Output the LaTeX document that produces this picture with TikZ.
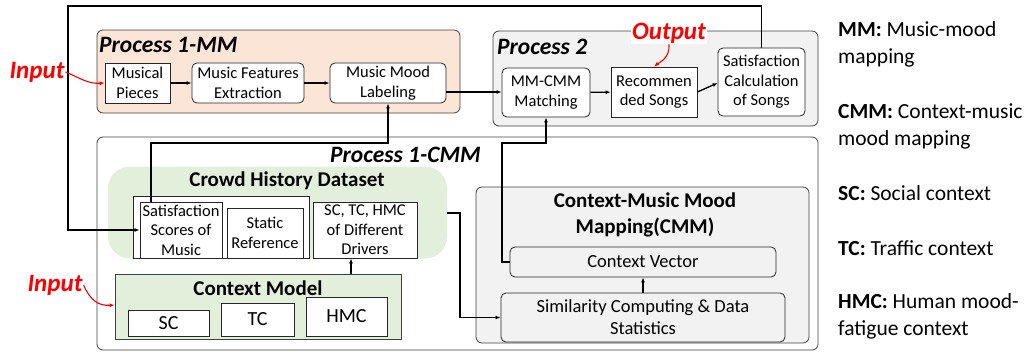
\documentclass[tikz,border=0pt]{standalone}
\usepackage{fontspec}
\setmainfont{Carlito}
\usetikzlibrary{calc,arrows.meta}
\definecolor{peach}{HTML}{FBE5D6}
\definecolor{lgray}{HTML}{F2F2F2}
\definecolor{lgreen}{HTML}{E2EFDA}
\definecolor{bord}{HTML}{404040}
\definecolor{inred}{HTML}{FF0000}
\tikzset{
  proc/.style={draw=bord, line width=0.8pt, rounded corners=6pt, inner sep=0pt},
  rbox/.style={draw=black!85, line width=0.8pt, rounded corners=5pt, fill=white, align=center, inner sep=0pt, font=\fontsize{16.5}{19.5}\selectfont},
  sbox/.style={draw=black!85, line width=0.8pt, fill=white, align=center, inner sep=0pt, font=\fontsize{16.5}{19.5}\selectfont},
  bigtxt/.style={font=\fontsize{18.5}{22}\selectfont},
  ctxtxt/.style={font=\fontsize{20}{22}\selectfont},
  ptitle/.style={font=\fontsize{23.5}{26}\selectfont\bfseries\itshape, anchor=west, inner sep=0pt},
  btitle/.style={font=\fontsize{21}{26.5}\selectfont\bfseries, inner sep=0pt, align=center},
  conn/.style={line width=1.3pt, -{Latex[length=5pt,width=4pt]}},
  redlab/.style={text=inred, font=\fontsize{25}{28}\selectfont\bfseries\itshape, inner sep=1pt},
  redarr/.style={draw=inred, line width=1.1pt, -{Latex[length=5pt,width=4pt]}},
  legend/.style={anchor=base west, inner sep=0pt, font=\fontsize{21.5}{27}\selectfont},
}
\begin{document}
\begin{tikzpicture}[x=1pt,y=-1pt]
\useasboundingbox (0,0) rectangle (1035,351);
% containers
\node[proc, fill=peach, minimum width=363pt, minimum height=83pt] (p1mm) at (278.5,71.5) {};
\node[proc, fill=lgray, minimum width=325pt, minimum height=95pt] (p2) at (655.5,78.5) {};
\node[proc, fill=white, minimum width=721pt, minimum height=213pt] (p1cmm) at (457.5,243.5) {};
\node[ptitle] (t1) at (99,45) {Process 1-MM};
\node[ptitle] (t2) at (497,47) {Process 2};
\node[ptitle] (t3) at (330,155) {Process 1-CMM};

% Process 1-MM
\node[sbox, minimum width=65pt, minimum height=40pt] (mp) at (137.5,83) {Musical\\Pieces};
\node[rbox, minimum width=112pt, minimum height=40pt] (mfe) at (248,83) {Music Features\\Extraction};
\node[rbox, minimum width=116pt, minimum height=40pt] (mml) at (388,83) {Music Mood\\Labeling};

% Process 2
\node[rbox, minimum width=88pt, minimum height=49pt] (mmc) at (546,92.5) {MM-CMM\\Matching};
\node[sbox, minimum width=86pt, minimum height=50pt] (rs) at (654,92) {Recommen\\ded Songs};
\node[rbox, minimum width=87pt, minimum height=68pt] (sc2) at (761.5,82) {Satisfaction\\Calculation\\of Songs};
\node[redlab, fill=white] (out) at (669,33) {Output};

% Crowd history
\node[fill=lgreen, rounded corners=22pt, minimum width=339pt, minimum height=92pt, inner sep=0pt] (chd) at (277.5,212.5) {};
\node[btitle] (chdt) at (287,181) {Crowd History Dataset};
\node[sbox, minimum width=176pt, minimum height=62pt] (ob) at (221,227) {};
\node[sbox, minimum width=82pt, minimum height=56pt] (ss) at (181,230) {Satisfaction\\Scores of\\Music};
\node[sbox, minimum width=76pt, minimum height=50pt] (sr) at (265,233) {Static\\Reference};
\draw[black!85, line width=0.8pt] (ob.south west) -- (ob.south east);
\node[sbox, minimum width=104pt, minimum height=56pt] (drv) at (365,230) {SC, TC, HMC\\of Different\\Drivers};

% Context model
\node[draw=bord, line width=0.8pt, fill=lgreen, minimum width=286pt, minimum height=65pt, inner sep=0pt] (cm) at (258,306.5) {};
\node[btitle] (cmt) at (258,288) {Context Model};
\node[sbox, ctxtxt, minimum width=81pt, minimum height=26pt] (csc) at (168.5,323) {SC};
\node[sbox, ctxtxt, minimum width=73pt, minimum height=33pt] (ctc) at (257.5,319.5) {TC};
\node[sbox, ctxtxt, minimum width=81pt, minimum height=39pt] (chmc) at (346.5,316.5) {HMC};

% CMM
\node[proc, fill=lgray, minimum width=333pt, minimum height=156pt] (cmm) at (642.5,265) {};
\node[btitle] (cmmt) at (645,215) {Context-Music Mood\\Mapping(CMM)};
\node[rbox, bigtxt, fill=lgray, minimum width=266pt, minimum height=30pt] (cv) at (643,262) {Context Vector};
\node[rbox, bigtxt, fill=lgray, minimum width=284pt, minimum height=49pt] (sim) at (643,317.5) {Similarity Computing \& Data\\Statistics};

% legend
\node[legend] (lg1a) at (838,36) {\textbf{MM:} Music-mood};
\node[legend] (lg1b) at (838,63) {mapping};
\node[legend] (lg2a) at (838,118) {\textbf{CMM:} Context-music};
\node[legend] (lg2b) at (838,145) {mood mapping};
\node[legend] (lg3) at (838,200) {\textbf{SC:} Social context};
\node[legend] (lg4) at (838,255) {\textbf{TC:} Traffic context};
\node[legend] (lg5a) at (838,308) {\textbf{HMC:} Human mood-};
\node[legend] (lg5b) at (838,335) {fatigue context};

% helper coordinates
\coordinate (fb) at (68,6);
\coordinate (k1) at (151,143);
\coordinate (k2) at (502,143);
\coordinate (k3) at (460,213);
\coordinate (k4) at (351,0);

% connectors
\draw[conn] (mp) -- (mfe);
\draw[conn] (mfe) -- (mml);
\draw[conn] (mml.east |- 0,92) -- (mmc.west |- 0,92);
\draw[conn] (mmc) -- (rs);
\draw[conn] (rs.east) -- ($(sc2.west)+(0,1)$);
\draw[conn] (sc2.north) -- (sc2.north |- fb) -- (fb) -- (fb |- ss.west) -- (ss.west);
\draw[conn] (k1 |- ss.north) -- (k1) -- (k1 -| mml.south) -- (mml.south);
\draw[conn] (cv.west) -- (k2 |- cv.west) -- (k2) -- (k2 -| mmc.south) -- (mmc.south);
\draw[conn] (k3 -| chd.east) -- (k3) -- (k3 |- sim.west) -- (sim.west);
\draw[conn] (cm.north -| k4) -- (drv.south -| k4);
\draw[conn] (sim.north) -- (cv.south);

% inputs / output
\node[redlab] (in1) at (37,72) {Input};
\node[redlab] (in2) at (55,285) {Input};
\draw[redarr] (in1.east) .. controls (80,78) and (88,84) .. (mp.west);
\draw[redarr] (in2.east) .. controls (90,300) and (98,306) .. (cm.west |- 0,305);
\draw[redarr] (out.south) .. controls (670,58) and (660,62) .. (rs.north);
\end{tikzpicture}
\end{document}
